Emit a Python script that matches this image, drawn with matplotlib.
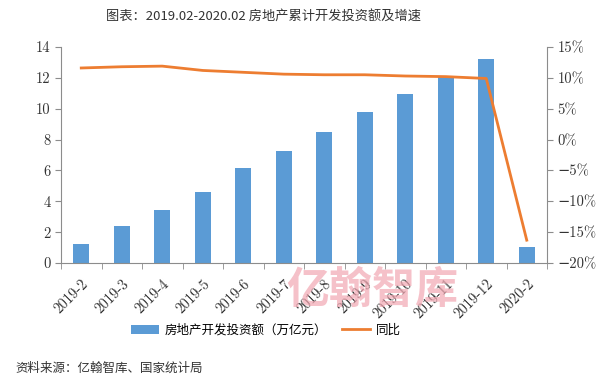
import matplotlib
matplotlib.use("Agg")
import matplotlib.pyplot as plt
import numpy as np
from matplotlib.ticker import FuncFormatter

categories = ["2019-2", "2019-3", "2019-4", "2019-5", "2019-6", "2019-7",
              "2019-8", "2019-9", "2019-10", "2019-11", "2019-12", "2020-2"]
investment = [1.2090, 2.3803, 3.4217, 4.6075, 6.1609, 7.2843,
              8.4589, 9.8008, 10.9603, 12.1265, 13.2194, 1.0115]
yoy = [11.6, 11.8, 11.9, 11.2, 10.9, 10.6, 10.5, 10.5, 10.3, 10.2, 9.9, -16.3]

title = "图表：2019.02-2020.02 房地产累计开发投资额及增速"
bar_label = "房地产开发投资额（万亿元）"
line_label = "同比"
source = "资料来源：亿翰智库、国家统计局"
watermark = "亿翰智库"

CJK = ["Noto Sans CJK SC", "DejaVu Sans"]
NUM = ["cmr10", "DejaVu Serif"]
plt.rcParams["axes.unicode_minus"] = True

bar_color = "#5B9BD5"
line_color = "#ED7D31"
spine_color = "#8c8c8c"

fig = plt.figure(figsize=(6.16, 3.84), dpi=100)
ax = fig.add_axes([61/616, 1-263/384, (547-61)/616, (263-47)/384])
ax2 = ax.twinx()

x = np.arange(len(categories))
ax.bar(x, investment, width=0.4, color=bar_color, zorder=2, label=bar_label)
ax2.plot(x, yoy, color=line_color, lw=2.0, zorder=3, label=line_label)

ax.set_xlim(-0.5, len(categories) - 0.5)
ax.set_ylim(0, 14)
ax.set_yticks(np.arange(0, 15, 2))
ax2.set_ylim(-20, 15)
ax2.set_yticks(np.arange(-20, 16, 5))
ax2.yaxis.set_major_formatter(FuncFormatter(lambda v, p: f"{int(v)}%".replace("-", "\u2212")))

ax.set_xticks(x)
ax.set_xticklabels(categories, rotation=45, ha="right", va="top", rotation_mode="anchor",
                   family=NUM, fontsize=10.5, color="#333333")
ax.set_xticks(np.arange(-0.5, len(categories), 1), minor=True)
ax.tick_params(axis="x", which="major", length=0, pad=10)
ax.tick_params(axis="x", which="minor", length=4, color=spine_color, direction="out")

for a in (ax, ax2):
    for s in a.spines.values():
        s.set_color(spine_color)
    a.spines["top"].set_visible(False)
ax.spines["right"].set_visible(False)
ax2.spines["left"].set_visible(False)
ax2.spines["bottom"].set_visible(False)

ax.tick_params(axis="y", length=4, color=spine_color, labelsize=10.5, labelcolor="#333333")
ax2.tick_params(axis="y", length=4, color=spine_color, labelsize=10.5, labelcolor="#333333")
for lab in ax.get_yticklabels() + ax2.get_yticklabels():
    lab.set_family(NUM)

fig.text(264/616, 1-17/384, title, family=CJK, fontsize=9.5, ha="center", va="center", color="#333333")
fig.text(15/616, 1-368/384, source, family=CJK, fontsize=9, ha="left", va="center", color="#333333")
fig.text(372/616, 1-290/384, watermark, family=CJK, fontsize=31, fontweight="bold",
         ha="center", va="center", color="#f2a7b2", alpha=0.7, zorder=0)

h1, l1 = ax.get_legend_handles_labels()
h2, l2 = ax2.get_legend_handles_labels()
fig.legend(h1 + h2, l1 + l2, loc="center", bbox_to_anchor=(266/616, 1-330/384), ncol=2,
           frameon=False, prop={"family": CJK, "size": 9}, handlelength=2.2, columnspacing=1.2,
           handletextpad=0.5)

fig.savefig("out.png", dpi=100)
